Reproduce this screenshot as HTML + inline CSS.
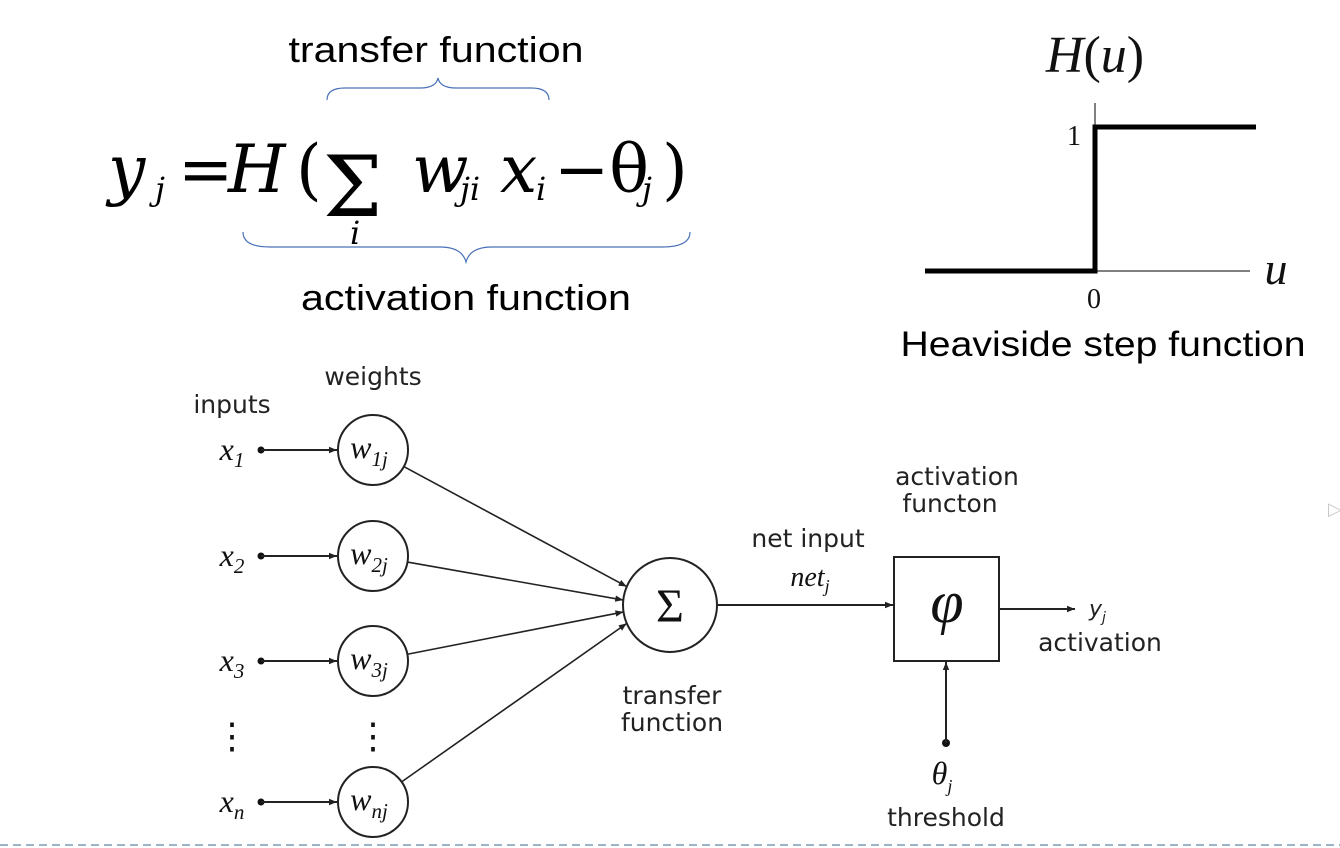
<!DOCTYPE html>
<html><head><meta charset="utf-8"><style>
html,body{margin:0;padding:0;background:#fff;}
svg{display:block;}
.sans{font-family:"DejaVu Sans","Liberation Sans",sans-serif;fill:#222;}
.lib{font-family:"Liberation Sans",sans-serif;fill:#000;}
.ser{font-family:"Liberation Serif",serif;fill:#111;}
</style></head><body>
<svg width="1340" height="848" viewBox="0 0 1340 848">
<defs>
<marker id="ah" viewBox="0 0 10 10" refX="10" refY="5" markerWidth="10" markerHeight="8" orient="auto" markerUnits="userSpaceOnUse"><path d="M0,1 L10,5 L0,9 Z" fill="#222"/></marker>
</defs>

<!-- Formula -->
<text class="lib" x="436" y="62" font-size="36" text-anchor="middle" textLength="295" lengthAdjust="spacingAndGlyphs">transfer function</text>
<path d="M327,100 Q327,88 345,88 L420,88 Q436,88 438,78 Q440,88 456,88 L531,88 Q549,88 549,100" fill="none" stroke="#4a72b8" stroke-width="1.2"/>
<g font-family="'DejaVu Serif','Liberation Serif',serif" font-style="italic" fill="#000">
<text x="108" y="192" font-size="66">y</text>
<text x="155" y="200" font-size="32">j</text>
<text x="178" y="192" font-size="66" font-style="normal">=</text>
<text x="228" y="192" font-size="66">H</text>
<text x="296" y="192" font-size="66" font-style="normal">(</text>
<text font-family="'DejaVu Serif',serif" font-style="normal" font-size="84" x="323" y="216">Σ</text>
<text x="350" y="244" font-size="32">i</text>
<text x="412" y="192" font-size="66">w</text>
<text x="460" y="200" font-size="32">ji</text>
<text x="500" y="192" font-size="66">x</text>
<text x="536" y="200" font-size="32">i</text>
<text x="554" y="192" font-size="66" font-style="normal">−θ</text>
<text x="642" y="200" font-size="32">j</text>
<text x="662" y="192" font-size="66" font-style="normal">)</text>
</g>
<path d="M243,232 Q243,247 270,247 L440,247 Q462,247 466,262 Q470,247 492,247 L662,247 Q690,247 690,232" fill="none" stroke="#4a72b8" stroke-width="1.2"/>
<text class="lib" x="466" y="310" font-size="36" text-anchor="middle" textLength="330" lengthAdjust="spacingAndGlyphs">activation function</text>

<!-- Heaviside -->
<text class="ser" x="1095" y="72" font-size="52" text-anchor="middle"><tspan font-style="italic">H</tspan>(<tspan font-style="italic">u</tspan>)</text>
<line x1="1095" y1="103" x2="1095" y2="272" stroke="#000" stroke-width="1"/>
<line x1="925" y1="271" x2="1250" y2="271" stroke="#000" stroke-width="1"/>
<path d="M925,271 L1095,271 L1095,127 L1256,127" fill="none" stroke="#000" stroke-width="5"/>
<text class="ser" x="1074" y="145" font-size="28" text-anchor="middle">1</text>
<text class="ser" x="1094" y="308" font-size="28" text-anchor="middle">0</text>
<text class="ser" x="1276" y="284" font-size="46" font-style="italic" text-anchor="middle">u</text>
<text class="lib" x="1103" y="356" font-size="35" text-anchor="middle" textLength="405" lengthAdjust="spacingAndGlyphs">Heaviside step function</text>

<!-- Network -->
<text class="sans" x="373" y="385" font-size="25" text-anchor="middle">weights</text>
<text class="sans" x="232" y="413" font-size="25" text-anchor="middle">inputs</text>
<g id="rows"></g>
<text class="ser" x="232" y="748" font-size="36" text-anchor="middle">⋮</text>
<text class="ser" x="373" y="748" font-size="36" text-anchor="middle">⋮</text>

<circle cx="670" cy="605" r="47" fill="#fff" stroke="#222" stroke-width="2"/>
<text class="ser" x="670" y="622" font-size="48" text-anchor="middle">Σ</text>
<text class="sans" x="672" y="704" font-size="25" text-anchor="middle">transfer</text>
<text class="sans" x="672" y="731" font-size="25" text-anchor="middle">function</text>

<line x1="718" y1="605" x2="893" y2="605" stroke="#222" stroke-width="2" marker-end="url(#ah)"/>
<text class="sans" x="808" y="547" font-size="25" text-anchor="middle">net input</text>
<text class="ser" x="810" y="586" font-size="28" font-style="italic" text-anchor="middle">net<tspan font-size="18" dy="6">j</tspan></text>

<text class="sans" x="957" y="485" font-size="25" text-anchor="middle">activation</text>
<text class="sans" x="950" y="512" font-size="25" text-anchor="middle">functon</text>
<rect x="894" y="557" width="105" height="104" fill="#fff" stroke="#222" stroke-width="2"/>
<text class="ser" x="947" y="622" font-size="60" font-style="italic" text-anchor="middle">φ</text>
<line x1="999" y1="609" x2="1075" y2="609" stroke="#222" stroke-width="2" marker-end="url(#ah)"/>
<text class="sans" x="1089" y="616" font-size="22" font-style="italic">y<tspan font-size="14" dy="6">j</tspan></text>
<text class="sans" x="1100" y="651" font-size="25" text-anchor="middle">activation</text>

<circle cx="946" cy="743" r="4" fill="#111"/>
<line x1="946" y1="743" x2="946" y2="662" stroke="#222" stroke-width="2" marker-end="url(#ah)"/>
<text class="ser" x="942" y="784" font-size="32" font-style="italic" text-anchor="middle">θ<tspan font-size="18" dy="8">j</tspan></text>
<text class="sans" x="946" y="826" font-size="25" text-anchor="middle">threshold</text>

<text x="1328" y="515" font-size="18" fill="#c8c8c8" font-family="'DejaVu Sans',sans-serif">▷</text>
<line x1="0" y1="845" x2="1340" y2="845" stroke="#9db3c8" stroke-width="2" stroke-dasharray="8,5"/>
</svg>
<script>
const rowY=[450,556,661,802];
const inputSubs=["1","2","3","n"];
const weightSubs=["1j","2j","3j","nj"];
const targetY=[585,600,612,625];
const g=document.getElementById('rows');
const NS='http://www.w3.org/2000/svg';
function mk(tag,attrs){const e=document.createElementNS(NS,tag);for(const k in attrs)e.setAttribute(k,attrs[k]);g.appendChild(e);return e;}
rowY.forEach((y,i)=>{
  const t=mk('text',{x:232,y:y+10,'font-size':32,'text-anchor':'middle','class':'ser','font-style':'italic'});
  
  
  t.innerHTML='x<tspan font-size="21" dy="7">'+inputSubs[i]+'</tspan>';
  const d=mk('circle',{cx:261,cy:y,r:3.5,fill:'#111'});
  
  
  const a=mk('line',{x1:261,y1:y,x2:337,y2:y,stroke:'#222','stroke-width':2,'marker-end':'url(#ah)'});
  
  
  const c=mk('circle',{cx:373,cy:y,r:35,fill:'#fff',stroke:'#222','stroke-width':2});
  
  
  const w=mk('text',{x:369,y:y+8,'font-size':32,'text-anchor':'middle','class':'ser','font-style':'italic'});
  
  
  w.innerHTML='w<tspan font-size="21" dy="8">'+weightSubs[i]+'</tspan>';
  const ang=Math.atan2(targetY[i]-605,623-670);
  const ex=670+47*Math.cos(ang), ey=605+47*Math.sin(ang);
  const sa=Math.atan2(ey-y,ex-373);
  const l=mk('line',{x1:373+35*Math.cos(sa),y1:y+35*Math.sin(sa),x2:ex,y2:ey,stroke:'#222','stroke-width':1.6,'marker-end':'url(#ah)'});
  
  
});
</script>
</body></html>
